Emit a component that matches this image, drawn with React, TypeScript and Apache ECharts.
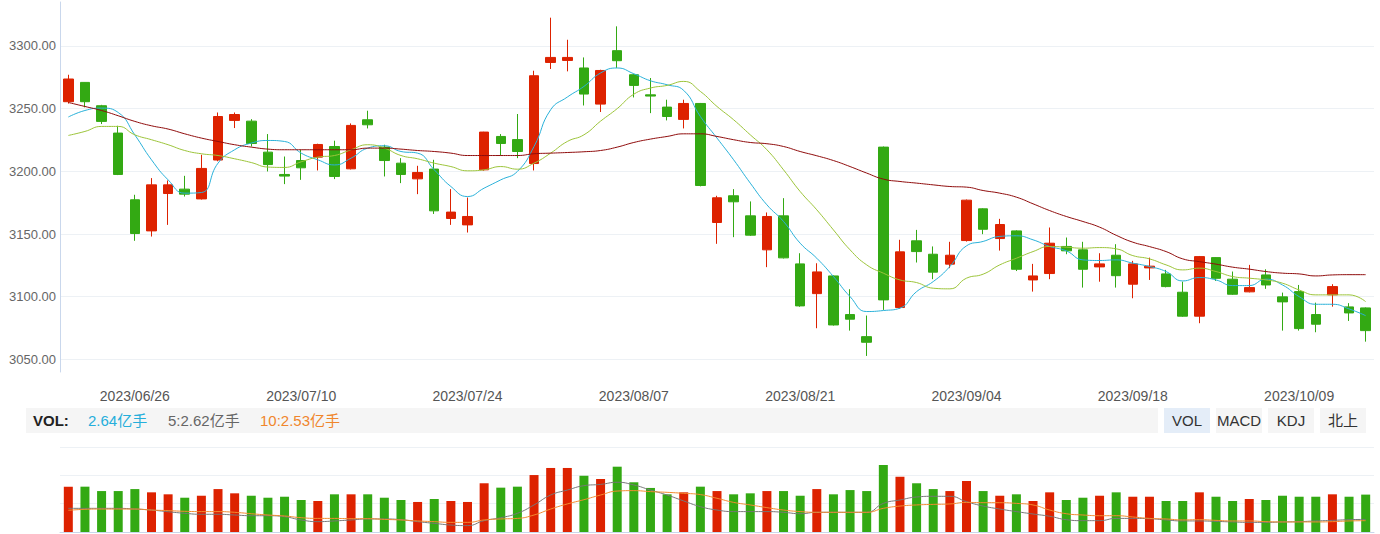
import React, { useEffect, useRef } from "react";
import * as echarts from "echarts";

const dates = [
  "2023/06/16", "2023/06/19", "2023/06/20", "2023/06/21", "2023/06/26", "2023/06/27", "2023/06/28", "2023/06/29", "2023/06/30", "2023/07/03",
  "2023/07/04", "2023/07/05", "2023/07/06", "2023/07/07", "2023/07/10", "2023/07/11", "2023/07/12", "2023/07/13", "2023/07/14", "2023/07/17",
  "2023/07/18", "2023/07/19", "2023/07/20", "2023/07/21", "2023/07/24", "2023/07/25", "2023/07/26", "2023/07/27", "2023/07/28", "2023/07/31",
  "2023/08/01", "2023/08/02", "2023/08/03", "2023/08/04", "2023/08/07", "2023/08/08", "2023/08/09", "2023/08/10", "2023/08/11", "2023/08/14",
  "2023/08/15", "2023/08/16", "2023/08/17", "2023/08/18", "2023/08/21", "2023/08/22", "2023/08/23", "2023/08/24", "2023/08/25", "2023/08/28",
  "2023/08/29", "2023/08/30", "2023/08/31", "2023/09/01", "2023/09/04", "2023/09/05", "2023/09/06", "2023/09/07", "2023/09/08", "2023/09/11",
  "2023/09/12", "2023/09/13", "2023/09/14", "2023/09/15", "2023/09/18", "2023/09/19", "2023/09/20", "2023/09/21", "2023/09/22", "2023/09/25",
  "2023/09/26", "2023/09/27", "2023/09/28", "2023/09/29", "2023/10/09", "2023/10/10", "2023/10/11", "2023/10/12", "2023/10/13",
];

const openPrices = [
  3255.5, 3270.9, 3252.3, 3230.5, 3177.3, 3152.5, 3182.3, 3185.8, 3178.0, 3209.0,
  3240.6, 3240.0, 3215.3, 3197.5, 3208.6, 3211.3, 3219.8, 3202.0, 3241.1, 3219.3,
  3206.5, 3194.0, 3201.8, 3162.4, 3157.3, 3201.2, 3227.8, 3225.3, 3206.2, 3286.8,
  3288.4, 3282.4, 3253.6, 3296.2, 3277.0, 3261.0, 3251.2, 3241.4, 3254.1, 3159.2,
  3180.5, 3164.5, 3137.4, 3164.5, 3126.2, 3102.5, 3116.6, 3085.8, 3068.2, 3219.3,
  3091.4, 3144.6, 3133.9, 3126.0, 3144.8, 3170.1, 3146.4, 3152.5, 3113.4, 3118.5,
  3140.1, 3137.4, 3123.8, 3133.1, 3110.0, 3123.0, 3118.2, 3103.6, 3084.5, 3131.2,
  3114.0, 3103.9, 3117.4, 3099.9, 3104.1, 3085.8, 3101.5, 3091.9, 3091.1,
];
const closePrices = [
  3273.6, 3255.5, 3239.8, 3197.5, 3150.4, 3189.2, 3189.2, 3181.8, 3202.3, 3243.7,
  3245.3, 3222.2, 3205.4, 3196.2, 3202.8, 3221.4, 3195.9, 3236.6, 3237.1, 3208.6,
  3197.5, 3199.1, 3168.5, 3167.5, 3164.0, 3231.3, 3222.2, 3215.8, 3276.2, 3290.8,
  3290.8, 3261.6, 3280.4, 3288.2, 3268.5, 3260.0, 3243.7, 3254.1, 3188.7, 3178.9,
  3175.7, 3149.1, 3164.0, 3131.0, 3092.7, 3119.8, 3077.5, 3082.1, 3063.7, 3097.5,
  3135.8, 3136.0, 3119.6, 3133.1, 3177.0, 3153.8, 3157.6, 3121.9, 3116.6, 3142.7,
  3136.6, 3121.9, 3126.2, 3116.8, 3126.2, 3124.4, 3108.1, 3084.5, 3132.0, 3114.7,
  3102.0, 3107.3, 3109.4, 3095.9, 3074.6, 3078.1, 3108.1, 3087.1, 3073.0,
];
const lowPrices = [
  3254.0, 3251.0, 3237.7, 3197.0, 3144.6, 3148.0, 3157.3, 3179.9, 3177.5, 3208.0,
  3234.5, 3219.8, 3199.9, 3189.8, 3193.2, 3200.7, 3193.8, 3201.5, 3234.2, 3195.9,
  3190.6, 3181.8, 3166.0, 3157.3, 3151.2, 3200.5, 3212.6, 3210.5, 3200.7, 3281.6,
  3279.7, 3252.5, 3247.3, 3282.4, 3258.9, 3246.4, 3240.6, 3234.2, 3188.0, 3142.2,
  3147.5, 3148.5, 3123.6, 3130.5, 3092.0, 3074.9, 3077.0, 3073.0, 3052.8, 3089.5,
  3090.5, 3127.3, 3114.0, 3122.8, 3144.0, 3149.9, 3136.8, 3120.5, 3104.1, 3114.0,
  3133.9, 3107.3, 3112.0, 3107.3, 3098.8, 3113.4, 3107.5, 3084.0, 3078.9, 3112.6,
  3101.5, 3103.5, 3106.3, 3073.0, 3073.0, 3071.7, 3092.1, 3080.7, 3064.2,
];
const highPrices = [
  3277.0, 3271.0, 3253.0, 3236.3, 3181.3, 3194.6, 3192.7, 3196.4, 3213.2, 3246.9,
  3246.9, 3241.6, 3229.7, 3211.8, 3217.2, 3222.0, 3224.4, 3238.2, 3248.3, 3221.2,
  3210.5, 3204.4, 3209.2, 3185.8, 3179.1, 3231.5, 3229.7, 3245.7, 3280.2, 3322.5,
  3304.9, 3290.8, 3281.0, 3315.6, 3277.5, 3274.4, 3257.1, 3257.1, 3254.5, 3180.5,
  3185.8, 3176.0, 3167.2, 3178.6, 3134.7, 3126.7, 3117.0, 3106.0, 3085.0, 3219.8,
  3145.4, 3153.3, 3140.1, 3143.8, 3177.5, 3170.5, 3162.1, 3153.0, 3126.2, 3155.2,
  3147.2, 3143.8, 3134.7, 3141.9, 3128.6, 3131.2, 3121.4, 3112.0, 3132.5, 3131.5,
  3120.1, 3125.4, 3121.9, 3103.3, 3109.4, 3095.3, 3110.0, 3094.9, 3091.5,
];

const ma5 = [
  3243.3, 3248.5, 3250.4, 3246.9, 3229.0, 3209.2, 3193.2, 3182.6, 3183.1, 3206.5,
  3217.2, 3222.5, 3224.6, 3223.8, 3214.5, 3209.2, 3205.1, 3210.5, 3218.5, 3220.4,
  3215.8, 3214.5, 3201.2, 3187.9, 3179.9, 3186.6, 3193.2, 3199.9, 3219.8, 3249.1,
  3259.2, 3267.7, 3278.4, 3282.4, 3277.8, 3272.2, 3269.0, 3264.5, 3243.7, 3226.5,
  3209.2, 3190.6, 3173.3, 3160.0, 3142.7, 3130.7, 3116.1, 3100.1, 3088.2, 3089.0,
  3090.9, 3104.1, 3112.1, 3124.1, 3140.6, 3144.1, 3148.1, 3148.6, 3145.4, 3140.1,
  3136.6, 3129.4, 3128.9, 3129.4, 3126.8, 3124.1, 3120.1, 3112.6, 3115.3, 3113.4,
  3108.9, 3108.9, 3114.0, 3109.4, 3100.1, 3094.0, 3094.0, 3090.3, 3084.9,
];
const ma10 = [
  3228.6, 3231.8, 3235.8, 3235.8, 3229.1, 3225.2, 3221.2, 3216.6, 3214.0, 3212.6,
  3210.0, 3207.0, 3203.4, 3203.1, 3207.6, 3211.3, 3212.6, 3217.2, 3221.2, 3218.5,
  3212.6, 3210.0, 3206.5, 3203.8, 3200.4, 3201.2, 3203.8, 3201.7, 3206.5, 3214.5,
  3223.8, 3229.1, 3240.0, 3250.0, 3261.5, 3266.4, 3268.5, 3271.7, 3263.7, 3251.7,
  3241.1, 3229.1, 3217.2, 3201.2, 3183.9, 3169.3, 3153.3, 3137.4, 3125.4, 3118.8,
  3113.4, 3111.3, 3106.8, 3106.3, 3114.8, 3118.0, 3125.4, 3130.7, 3136.0, 3140.1,
  3139.5, 3138.7, 3139.2, 3138.2, 3132.8, 3130.2, 3125.4, 3121.4, 3122.8, 3120.1,
  3116.1, 3114.8, 3113.4, 3110.8, 3105.4, 3101.5, 3101.5, 3101.5, 3096.1,
];
const ma30 = [
  3254.9, 3251.7, 3248.5, 3244.3, 3239.8, 3236.3, 3233.7, 3229.9, 3226.5, 3223.8,
  3221.2, 3219.3, 3217.7, 3217.2, 3217.2, 3217.2, 3217.2, 3217.2, 3218.5, 3218.5,
  3217.7, 3216.6, 3215.8, 3214.5, 3212.6, 3212.6, 3212.6, 3212.6, 3214.0, 3214.5,
  3215.0, 3215.6, 3216.6, 3219.3, 3223.0, 3225.7, 3227.8, 3229.9, 3229.9, 3227.8,
  3225.2, 3223.0, 3222.0, 3219.8, 3215.8, 3212.4, 3208.6, 3203.8, 3198.6, 3193.8,
  3191.9, 3190.6, 3189.2, 3187.9, 3187.4, 3184.7, 3182.6, 3179.4, 3174.1, 3168.7,
  3164.0, 3160.0, 3155.5, 3149.0, 3143.5, 3140.0, 3136.0, 3130.2, 3128.0, 3126.0,
  3123.6, 3122.0, 3120.1, 3118.8, 3118.2, 3116.6, 3117.4, 3117.6, 3117.6,
];

// volume, 亿手
const volume = [
  3.20, 3.20, 2.89, 2.89, 3.03, 2.80, 2.66, 2.42, 2.56, 3.03,
  2.73, 2.56, 2.42, 2.49, 2.26, 2.19, 2.66, 2.66, 2.66, 2.42,
  2.26, 2.12, 2.33, 2.19, 2.12, 3.44, 3.13, 3.20, 4.02, 4.52,
  4.52, 3.97, 3.74, 4.61, 3.51, 3.11, 2.66, 2.80, 3.20, 2.89,
  2.66, 2.73, 2.89, 2.89, 2.56, 3.03, 2.66, 2.96, 2.89, 4.73,
  3.90, 3.44, 3.03, 2.89, 3.60, 2.89, 2.56, 2.66, 2.19, 2.80,
  2.26, 2.42, 2.56, 2.80, 2.49, 2.49, 2.19, 2.19, 2.80, 2.49,
  2.19, 2.33, 2.26, 2.56, 2.49, 2.49, 2.66, 2.49, 2.64,
];
const volMa5Line = [
  1.67, 1.67, 1.67, 1.67, 1.62, 1.55, 1.43, 1.32, 1.25, 1.25,
  1.20, 1.15, 1.15, 1.08, 0.85, 0.73, 0.78, 0.85, 0.92, 0.92,
  0.87, 0.73, 0.61, 0.49, 0.45, 0.80, 1.01, 1.32, 1.91, 2.61,
  2.96, 3.27, 3.36, 3.51, 3.32, 2.96, 2.61, 2.19, 1.79, 1.55,
  1.44, 1.44, 1.44, 1.39, 1.29, 1.39, 1.39, 1.39, 1.39, 2.02,
  2.26, 2.47, 2.52, 2.52, 2.14, 1.83, 1.62, 1.44, 1.27, 1.11,
  0.87, 0.80, 0.80, 0.96, 0.96, 0.94, 0.85, 0.78, 0.78, 0.75,
  0.71, 0.68, 0.68, 0.71, 0.73, 0.78, 0.82, 0.87, 0.89,
];
const volMa10Line = [
  1.53, 1.60, 1.62, 1.62, 1.62, 1.55, 1.51, 1.46, 1.44, 1.44,
  1.39, 1.29, 1.20, 1.13, 1.01, 0.96, 0.96, 0.94, 0.94, 0.89,
  0.85, 0.78, 0.73, 0.68, 0.68, 0.85, 0.92, 0.96, 1.20, 1.62,
  1.98, 2.28, 2.61, 2.89, 2.92, 2.85, 2.80, 2.73, 2.64, 2.38,
  2.09, 1.91, 1.72, 1.55, 1.44, 1.39, 1.39, 1.39, 1.39, 1.67,
  1.83, 1.91, 1.95, 1.98, 2.09, 2.07, 2.07, 2.02, 1.91, 1.55,
  1.29, 1.20, 1.15, 1.15, 1.06, 0.96, 0.92, 0.85, 0.87, 0.82,
  0.78, 0.78, 0.73, 0.71, 0.71, 0.71, 0.73, 0.78, 0.80,
];

const volNow = "2.64";
const volMa5Now = "2.62";
const volMa10Now = "2.53";
const indicatorTabs = ["VOL", "MACD", "KDJ", "北上"];

const UP = "#dd2200";
const DOWN = "#33a913";
const FONT = "'Liberation Sans', Arial, 'Noto Sans CJK SC', sans-serif";

export default function App() {
  const ref = useRef<HTMLDivElement>(null);

  useEffect(() => {
    if (!ref.current) return;
    const chart = echarts.init(ref.current, undefined, { renderer: "svg" });

    const candles = dates.map((_, i) => [openPrices[i], closePrices[i], lowPrices[i], highPrices[i]]);
    const volBars = volume.map((v, i) => ({
      value: v,
      itemStyle: { color: closePrices[i] >= openPrices[i] ? UP : DOWN },
    }));

    const tabGraphics: any[] = [];
    indicatorTabs.forEach((t, k) => {
      const x = 1164 + k * 52;
      tabGraphics.push({
        type: "rect",
        shape: { x, y: 408, width: 46, height: 25 },
        style: { fill: k === 0 ? "#e4edf8" : "#f5f5f5" },
        silent: true,
      });
      tabGraphics.push({
        type: "text",
        x: x + 23,
        y: 420.5,
        style: {
          text: t,
          fill: "#333",
          fontSize: 15,
          fontFamily: FONT,
          align: "center",
          verticalAlign: "middle",
        },
        silent: true,
      });
    });

    const option: any = {
      animation: false,
      textStyle: { fontFamily: FONT },
      grid: [
        { left: 60, right: 6, top: 2, height: 370 },
        { left: 60, right: 6, top: 447, height: 85 },
      ],
      xAxis: [
        {
          type: "category",
          gridIndex: 0,
          data: dates,
          boundaryGap: true,
          axisLine: { show: false },
          axisTick: { show: false },
          splitLine: { show: false },
          axisLabel: {
            interval: (i: number) => i % 10 === 4,
            color: "#555",
            fontSize: 14,
            margin: 17,
            fontFamily: FONT,
          },
        },
        {
          type: "category",
          gridIndex: 1,
          data: dates,
          boundaryGap: true,
          axisLine: { show: true, lineStyle: { color: "#c9d7ec" } },
          axisTick: { show: false },
          axisLabel: { show: false },
          splitLine: { show: false },
        },
      ],
      yAxis: [
        {
          type: "value",
          gridIndex: 0,
          min: 3040,
          max: 3335,
          splitNumber: 5,
          axisLine: { show: true, lineStyle: { color: "#c9d7ec" } },
          axisTick: { show: false },
          axisLabel: {
            formatter: (v: number) => v.toFixed(2),
            color: "#666",
            fontSize: 13,
            margin: 4,
            showMinLabel: false,
            showMaxLabel: false,
            fontFamily: FONT,
          },
          splitLine: {
            show: true,
            showMinLine: false,
            showMaxLine: false,
            lineStyle: { color: "#edf1f5", width: 1 },
          },
        },
        {
          type: "value",
          gridIndex: 1,
          min: 0,
          max: 6,
          interval: 2,
          axisLine: { show: false },
          axisTick: { show: false },
          axisLabel: { show: false },
          splitLine: { show: true, lineStyle: { color: "#edf1f5", width: 1 } },
        },
      ],
      series: [
        {
          name: "K",
          type: "candlestick",
          xAxisIndex: 0,
          yAxisIndex: 0,
          data: candles,
          barWidth: 10,
          itemStyle: {
            color: UP,
            color0: DOWN,
            borderColor: UP,
            borderColor0: DOWN,
            borderWidth: 1,
          },
        },
        {
          name: "MA5",
          type: "line",
          data: ma5,
          smooth: true,
          symbol: "none",
          lineStyle: { color: "#2ab1d9", width: 1 },
        },
        {
          name: "MA10",
          type: "line",
          data: ma10,
          smooth: true,
          symbol: "none",
          lineStyle: { color: "#9cc43a", width: 1 },
        },
        {
          name: "MA30",
          type: "line",
          data: ma30,
          smooth: true,
          symbol: "none",
          lineStyle: { color: "#8f0c0c", width: 1 },
        },
        {
          name: "VOL",
          type: "bar",
          xAxisIndex: 1,
          yAxisIndex: 1,
          data: volBars,
          barWidth: 9,
        },
        {
          name: "VOL5",
          type: "line",
          xAxisIndex: 1,
          yAxisIndex: 1,
          data: volMa5Line,
          smooth: true,
          symbol: "none",
          lineStyle: { color: "#777", width: 1 },
        },
        {
          name: "VOL10",
          type: "line",
          xAxisIndex: 1,
          yAxisIndex: 1,
          data: volMa10Line,
          smooth: true,
          symbol: "none",
          lineStyle: { color: "#f28b30", width: 1 },
        },
      ],
      graphic: [
        {
          type: "rect",
          shape: { x: 26, y: 408, width: 1132, height: 25 },
          style: { fill: "#f5f5f5" },
          silent: true,
        },
        {
          type: "text",
          x: 33,
          y: 420.5,
          style: { text: "VOL:", fill: "#222", fontSize: 15, fontWeight: "bold", fontFamily: FONT, verticalAlign: "middle" },
          silent: true,
        },
        {
          type: "text",
          x: 88,
          y: 420.5,
          style: { text: volNow + "亿手", fill: "#25aedb", fontSize: 15, fontFamily: FONT, verticalAlign: "middle" },
          silent: true,
        },
        {
          type: "text",
          x: 168,
          y: 420.5,
          style: { text: "5:" + volMa5Now + "亿手", fill: "#666", fontSize: 15, fontFamily: FONT, verticalAlign: "middle" },
          silent: true,
        },
        {
          type: "text",
          x: 260,
          y: 420.5,
          style: { text: "10:" + volMa10Now + "亿手", fill: "#f0862c", fontSize: 15, fontFamily: FONT, verticalAlign: "middle" },
          silent: true,
        },
        ...tabGraphics,
      ],
    };

    chart.setOption(option);
    return () => chart.dispose();
  }, []);

  return (
    <div
      ref={ref}
      style={{ position: "fixed", left: 0, top: 0, width: 1380, height: 534, background: "#fff" }}
    />
  );
}
